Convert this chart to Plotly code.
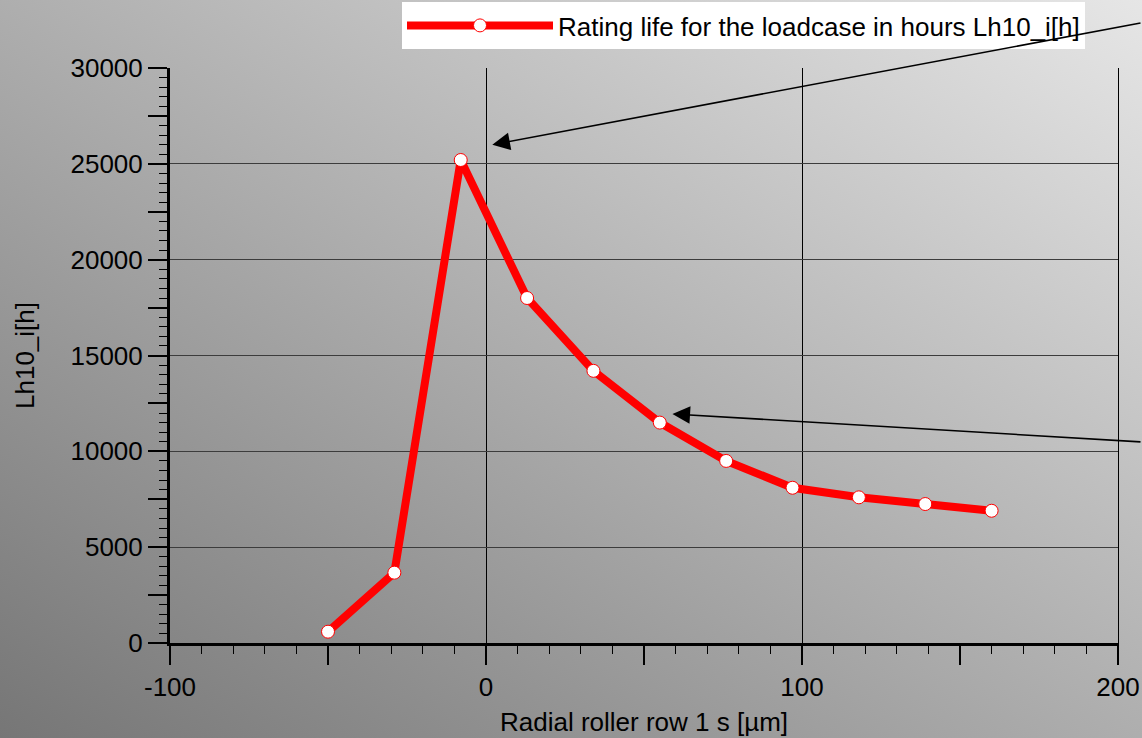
import base64
import plotly.graph_objects as go

# ---- data ----
clearance_um = [-50, -29, -8, 13, 34, 55, 76, 97, 118, 139, 160]
life_h = [590, 3670, 25200, 18000, 14200, 11500, 9500, 8100, 7600, 7250, 6900]
x_tick_vals = [-100, -50, 0, 50, 100, 150, 200]
x_tick_text = ["-100", "", "0", "", "100", "", "200"]
y_tick_vals = list(range(0, 30001, 2500))
y_tick_text = [str(v) if v % 5000 == 0 else "" for v in y_tick_vals]
series_name = "Rating life for the loadcase in hours Lh10_i[h]"

W, H = 1142, 738
ML, MR, MT, MB = 170, 24, 68, 95
PW, PH = W - ML - MR, H - MT - MB

svg = (
    f'<svg xmlns="http://www.w3.org/2000/svg" width="{W}" height="{H}" '
    f'viewBox="0 0 {W} {H}" preserveAspectRatio="none">'
    '<defs><linearGradient id="g" x1="0" y1="1" x2="1" y2="0">'
    '<stop offset="0" stop-color="#767676"/>'
    '<stop offset="1" stop-color="#e6e6e6"/>'
    '</linearGradient></defs>'
    f'<rect width="{W}" height="{H}" fill="url(#g)"/></svg>'
)
bg_src = "data:image/svg+xml;base64," + base64.b64encode(svg.encode()).decode()

font = "Liberation Sans, Arial, sans-serif"

fig = go.Figure()
fig.add_trace(go.Scatter(
    x=clearance_um, y=life_h, name=series_name,
    mode="lines+markers", xaxis="x2", yaxis="y2",
    line=dict(color="#ff0000", width=8),
    marker=dict(size=13, color="white", line=dict(color="#ff0000", width=1)),
    showlegend=True,
))

fig.update_layout(
    width=W, height=H,
    margin=dict(l=ML, r=MR, t=MT, b=MB, autoexpand=False),
    paper_bgcolor="#aaaaaa",
    plot_bgcolor="rgba(0,0,0,0)",
    font=dict(family=font, size=26, color="black"),
    images=[dict(source=bg_src, xref="paper", yref="paper",
                 x=-ML / PW, y=1 + MT / PH, sizex=W / PW, sizey=H / PH,
                 sizing="stretch", xanchor="left", yanchor="top", layer="below")],
    xaxis=dict(range=[-100, 200], tickvals=[0, 100], showgrid=True,
               gridcolor="black", gridwidth=1, showticklabels=False, ticks="",
               showline=False, zeroline=False, automargin=False),
    yaxis=dict(range=[0, 30000], tickvals=list(range(0, 30001, 5000)),
               showgrid=True, gridcolor="#3c3c3c", gridwidth=1.3,
               showticklabels=False, ticks="", zeroline=False, automargin=False,
               showline=True, linecolor="black", linewidth=1, mirror=True),
    xaxis2=dict(overlaying="x", anchor="y2", range=[-100, 200], automargin=False,
                tickmode="array", tickvals=x_tick_vals, ticktext=x_tick_text,
                ticks="outside", ticklen=19, tickwidth=1.5, tickcolor="black",
                minor=dict(tickmode="linear", tick0=0, dtick=10, ticks="outside",
                           ticklen=8, tickwidth=1, tickcolor="black"),
                showline=True, linecolor="black", linewidth=3,
                showgrid=False, zeroline=False,
                tickfont=dict(size=26),
                title=dict(text="Radial roller row 1 s [µm]", font=dict(size=26), standoff=12)),
    yaxis2=dict(overlaying="y", anchor="x2", side="left", range=[0, 30000], automargin=False,
                tickmode="array", tickvals=y_tick_vals, ticktext=y_tick_text,
                ticks="outside", ticklen=19, tickwidth=1.5, tickcolor="black",
                minor=dict(tickmode="linear", tick0=0, dtick=500, ticks="outside",
                           ticklen=8, tickwidth=1, tickcolor="black"),
                showline=True, linecolor="black", linewidth=3,
                showgrid=False, zeroline=False,
                tickfont=dict(size=26),
                title=dict(text="Lh10_i[h]", font=dict(size=26), standoff=29)),
    legend=dict(x=(402 - ML) / PW, y=1 + (MT - 2) / PH, xanchor="left", yanchor="top",
                bgcolor="white", borderwidth=0, itemwidth=146,
                font=dict(size=26), tracegroupgap=0),
    annotations=[
        dict(x=2, y=26000, xref="x", yref="y", ax=660, ay=-122, text="",
             showarrow=True, arrowhead=2, arrowsize=2.2, arrowwidth=1.6, arrowcolor="black"),
        dict(x=59, y=11950, xref="x", yref="y", ax=480, ay=28, text="",
             showarrow=True, arrowhead=2, arrowsize=2.2, arrowwidth=1.6, arrowcolor="black"),
    ],
)

fig.write_html("out.html", config={"displayModeBar": False},
               post_script="document.body.style.margin='0px';document.body.style.overflow='hidden';")
